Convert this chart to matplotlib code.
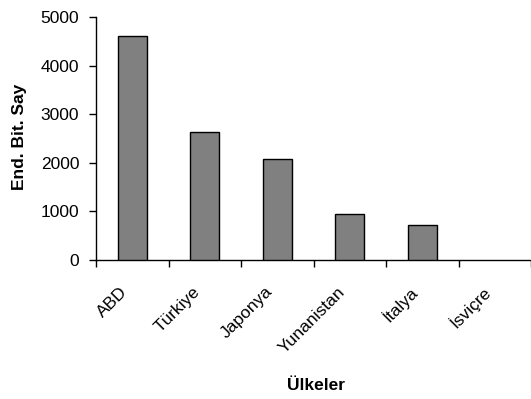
import matplotlib
matplotlib.use("Agg")
import matplotlib.pyplot as plt
import matplotlib.transforms as mtransforms
import numpy as np

plt.rcParams["font.family"] = ["Liberation Sans", "DejaVu Sans"]

# Data
countries = ["ABD", "Türkiye", "Japonya", "Yunanistan", "İtalya", "İsviçre"]
values = [4600, 2630, 2080, 940, 720, 0]

fig = plt.figure(figsize=(5.31, 3.99), dpi=100)
ax = fig.add_axes([96 / 531, 1 - 260 / 399, 1 - 96 / 531, (260 - 17) / 399])

x = np.arange(len(countries))
# zero-height bars are not drawn in the original, so no outline for them
lws = [1.0 if v > 0 else 0 for v in values]
ax.bar(x, values, width=0.4, color="#808080", edgecolor="black", linewidth=lws, zorder=3)

ax.set_xlim(-0.5, len(countries) - 0.5)
ax.set_ylim(0, 5000)
ax.set_yticks([0, 1000, 2000, 3000, 4000, 5000])
ax.tick_params(axis="y", labelsize=12.5, length=5, width=1, pad=7, direction="out")

# ticks between categories, labels at category centers
ax.set_xticks(np.arange(len(countries) + 1) - 0.5)
ax.set_xticklabels([])
ax.set_xticks(x, minor=True)
ax.set_xticklabels(countries, minor=True, rotation=45, ha="right", va="center",
                   rotation_mode="anchor", fontsize=12.5)
ax.tick_params(axis="x", which="major", length=5, width=1, direction="out")
ax.tick_params(axis="x", which="minor", length=0, pad=21)

# nudge the rotated labels slightly left, as in the original
shift = mtransforms.ScaledTranslation(-7 / 100, 0, fig.dpi_scale_trans)
for lbl in ax.get_xticklabels(minor=True):
    lbl.set_transform(lbl.get_transform() + shift)

for s in ["top", "right"]:
    ax.spines[s].set_visible(False)
ax.spines["left"].set_linewidth(1)
ax.spines["bottom"].set_linewidth(1)

fig.text(20 / 531, 1 - 137 / 399, "End. Bit. Say", rotation=90, ha="center",
         va="center", fontsize=12.5, fontweight="bold")
fig.text(316 / 531, 1 - 385 / 399, "Ülkeler", ha="center", va="center",
         fontsize=12.5, fontweight="bold")

fig.savefig("out.png", dpi=100)
